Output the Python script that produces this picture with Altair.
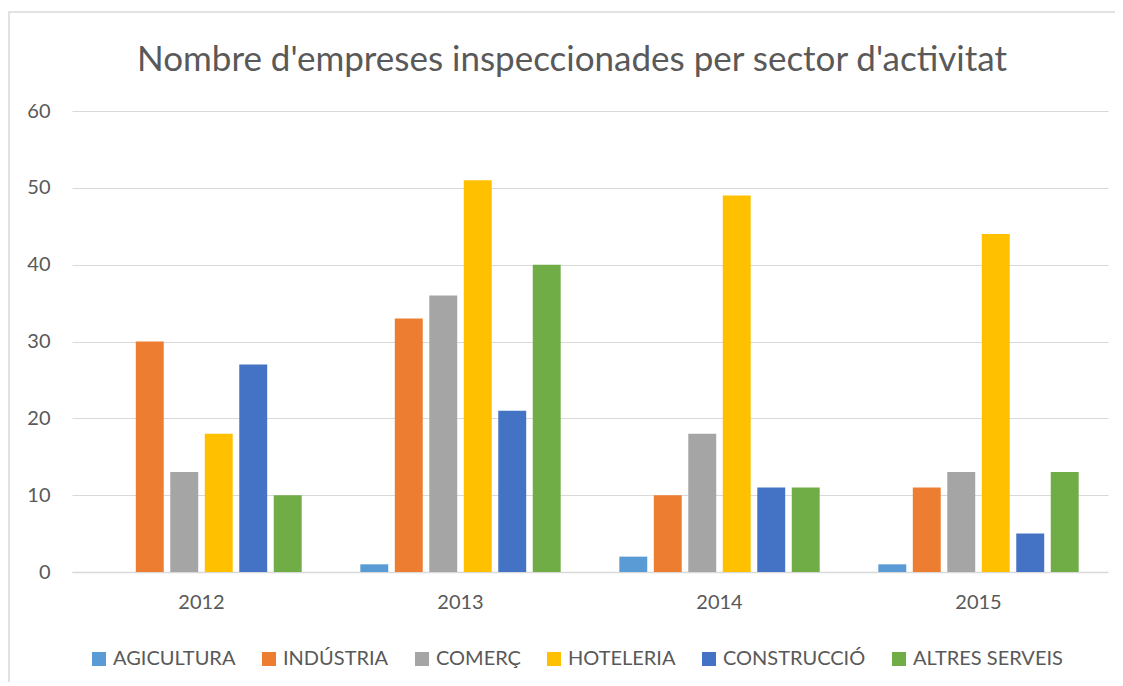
import altair as alt
import pandas as pd

years = ["2012", "2013", "2014", "2015"]
sectors = ["AGICULTURA", "INDÚSTRIA", "COMERÇ", "HOTELERIA", "CONSTRUCCIÓ", "ALTRES SERVEIS"]
agicultura = [0, 1, 2, 1]
industria = [30, 33, 10, 11]
comerc = [13, 36, 18, 13]
hoteleria = [18, 51, 49, 44]
construccio = [27, 21, 11, 5]
altres = [10, 40, 11, 13]
colors = ["#5B9BD5", "#ED7D31", "#A5A5A5", "#FFC000", "#4472C4", "#70AD47"]
y_ticks = [0, 10, 20, 30, 40, 50, 60]

series = [agicultura, industria, comerc, hoteleria, construccio, altres]
rows = []
for s, vals in zip(sectors, series):
    for y, v in zip(years, vals):
        rows.append({"year": y, "sector": s, "value": v})
df = pd.DataFrame(rows)

FONT = "Lato"
TXT = "#595959"
GRID = "#D9D9D9"

bars = alt.Chart(df).mark_bar().encode(
    x=alt.X("year:N", sort=years,
            scale=alt.Scale(paddingInner=0, paddingOuter=0),
            axis=alt.Axis(title=None, labelAngle=0, ticks=False,
                          domainColor=GRID, domainWidth=1.5,
                          labelPadding=20, labelFontSize=20,
                          labelColor=TXT, labelFont=FONT)),
    xOffset=alt.XOffset("sector:N", sort=sectors,
                        scale=alt.Scale(paddingInner=0.19, paddingOuter=0.85)),
    y=alt.Y("value:Q", scale=alt.Scale(domain=[0, 60]),
            axis=alt.Axis(title=None, values=y_ticks, domain=False, ticks=False,
                          gridColor=GRID, gridWidth=1, labelPadding=22,
                          labelFontSize=20, labelColor=TXT, labelFont=FONT)),
    color=alt.Color("sector:N", sort=sectors,
                    scale=alt.Scale(domain=sectors, range=colors),
                    legend=alt.Legend(title=None, orient="none", direction="horizontal",
                                      columns=6, legendX=17, legendY=538,
                                      symbolType="square", symbolSize=196,
                                      symbolStrokeWidth=0, labelOffset=4,
                                      columnPadding=23, labelFontSize=20,
                                      labelColor=TXT, labelFont=FONT, padding=0)),
)

border = alt.Chart(alt.Data(values=[{}])).mark_rect(
    fill=None, stroke=GRID, strokeWidth=1.5
).encode(
    x=alt.value(-63), x2=alt.value(1060),
    y=alt.value(-99), y2=alt.value(700),
)

chart = alt.layer(border, bars).properties(
    width=1036, height=461,
    title=alt.TitleParams("Nombre d'empreses inspeccionades per sector d'activitat",
                          fontSize=35, font=FONT, fontWeight="normal", color=TXT,
                          anchor="middle", dx=-18, baseline="alphabetic", offset=0, dy=95),
    autosize=alt.AutoSizeParams(type="none"),
    padding={"left": 64, "top": 103, "right": 7, "bottom": 110},
).configure_view(stroke=None)

chart.save("out.html", embed_options={"renderer": "svg", "actions": False})
